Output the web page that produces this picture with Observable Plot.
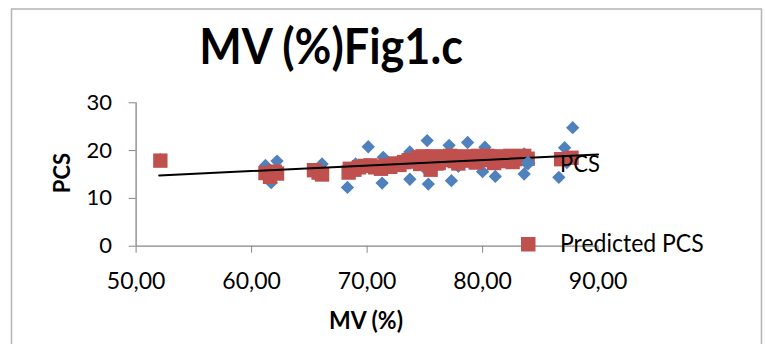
<!DOCTYPE html>
<html><head><meta charset="utf-8">
<script src="https://cdn.jsdelivr.net/npm/d3@7"></script>
<script src="https://cdn.jsdelivr.net/npm/@observablehq/plot@0.6"></script>
<style>
html,body{margin:0;padding:0;background:#fff;}
#wrap{width:765px;height:344px;overflow:hidden;}
</style></head><body><div id="wrap"></div>
<script>
// Observed PCS (blue diamonds)
const mvActual  = [52.1, 61.2, 61.7, 62.2, 61.8, 65.5, 66.1, 68.3, 69.0, 70.1, 71.3, 71.4, 72.5, 73.7, 73.7, 75.2, 75.3, 75.0, 77.1, 77.3, 77.9, 78.7, 78.3, 80.2, 80.0, 81.1, 82.0, 83.6, 83.8, 83.6, 86.6, 87.1, 87.8, 87.3];
const pcsActual = [18.1, 16.9, 13.3, 17.8, 15.5, 15.2, 17.2, 12.3, 17.2, 20.8, 13.2, 18.6, 17.5, 19.7, 14.0, 22.1, 13.0, 16.3, 21.1, 13.7, 16.7, 21.7, 18.0, 20.7, 15.6, 14.6, 17.8, 19.3, 17.4, 15.1, 14.4, 20.6, 24.8, 17.5];
// Predicted PCS (red squares)
const mvPred  = [52.1, 61.2, 61.6, 62.2, 62.0, 65.4, 65.8, 66.1, 68.4, 68.5, 68.9, 69.3, 69.8, 70.3, 70.7, 71.2, 71.6, 72.0, 72.4, 72.8, 73.2, 73.6, 74.0, 74.4, 74.8, 75.2, 75.5, 75.6, 76.0, 76.4, 76.8, 77.2, 77.6, 78.0, 78.4, 78.8, 79.2, 79.6, 80.0, 80.4, 80.8, 81.2, 81.6, 82.0, 82.4, 82.8, 83.2, 83.6, 83.9, 86.8, 87.7, 74.6, 76.2, 77.9, 79.4, 81.0, 82.6];
const pcsPred = [17.9, 15.3, 14.5, 15.2, 15.6, 15.9, 15.4, 15.0, 15.4, 16.2, 16.0, 16.5, 16.8, 16.9, 16.5, 16.2, 16.9, 16.6, 17.3, 17.0, 17.6, 18.0, 17.7, 18.6, 18.8, 17.5, 16.0, 18.8, 17.3, 18.0, 18.8, 18.9, 17.8, 18.2, 18.8, 17.9, 18.3, 18.9, 18.0, 18.9, 18.4, 18.8, 17.8, 18.5, 18.9, 18.2, 18.6, 18.9, 18.3, 18.2, 18.5, 17.2, 17.4, 17.3, 17.5, 17.4, 17.6];
// Linear trendline of predicted PCS
const trendMV  = [52, 90];
const trendPCS = [14.8, 19.2];
// Axis ticks
const xTicks = [50, 60, 70, 80, 90];
const yTicks = [0, 10, 20, 30];

const actual = mvActual.map((x, i) => ({x, y: pcsActual[i]}));
const pred = mvPred.map((x, i) => ({x, y: pcsPred[i]}));
const trend = trendMV.map((x, i) => ({x, y: trendPCS[i]}));
const AX = "#868686";
const FONT = "Lato, 'Open Sans', sans-serif";

const chart = Plot.plot({
  width: 765, height: 344,
  marginLeft: 135.6, marginRight: 167.4, marginTop: 102.3, marginBottom: 98.3,
  x: {domain: [50, 90]},
  y: {domain: [0, 30]},
  style: {fontFamily: FONT, background: "white", overflow: "visible", color: "#000"},
  marks: [
    Plot.ruleX([50], {stroke: AX, strokeWidth: 1.3}),
    Plot.ruleY([0], {stroke: AX, strokeWidth: 1.3}),
    Plot.axisX(xTicks, {tickSize: 7, tickPadding: 19, stroke: AX, fill: "#000", fontSize: 23, label: null,
      tickFormat: d => d.toFixed(2).replace(".", ",")}),
    Plot.axisY(yTicks, {tickSize: 7, tickPadding: 17, stroke: AX, fill: "#000", fontSize: 22, label: null}),
    Plot.dot(actual, {x: "x", y: "y", symbol: "diamond2", r: 6, fill: "#4F81BD", stroke: "none"}),
    Plot.dot(pred, {x: "x", y: "y", symbol: "square", r: 8.1, fill: "#C0504D", stroke: "none"}),
    Plot.line(trend, {x: "x", y: "y", stroke: "#000", strokeWidth: 2})
  ]
});

const svg = d3.select(chart);
// outer chart border
svg.insert("rect", ":first-child").attr("x", 11.5).attr("y", 9).attr("width", 750).attr("height", 400)
  .attr("fill", "white").attr("stroke", "#b3b3b3").attr("stroke-width", 1.5);
const txt = (s, x, y, size, weight, anchor, rot, sy = 1) => {
  const t = svg.append("text").text(s).attr("x", 0).attr("y", 0)
    .attr("font-size", size).attr("font-weight", weight).attr("text-anchor", anchor)
    .attr("font-family", FONT).attr("fill", "#000")
    .attr("transform", `translate(${x},${y})${rot ? " rotate(-90)" : ""} scale(1,${sy})`);
  return t;
};
txt("MV (%)Fig1.c", 331, 64, 45, "bold", "middle", false, 1.12);
txt("MV (%)", 366, 329, 23, "bold", "middle", false, 1.08);
txt("PCS", 70, 173, 22, "bold", "middle", true);
// legend
svg.append("rect").attr("x", 528 - 5.3).attr("y", 163 - 5.3).attr("width", 10.6).attr("height", 10.6)
  .attr("fill", "#4F81BD").attr("transform", "rotate(45 528 163)");
txt("PCS", 560, 172, 22, "normal", "start", false, 1.08);
svg.append("rect").attr("x", 521).attr("y", 237).attr("width", 14.5).attr("height", 14.5).attr("fill", "#C0504D");
txt("Predicted PCS", 560, 252, 23, "normal", "start", false, 1.08);

document.getElementById("wrap").appendChild(chart);
</script></body></html>
